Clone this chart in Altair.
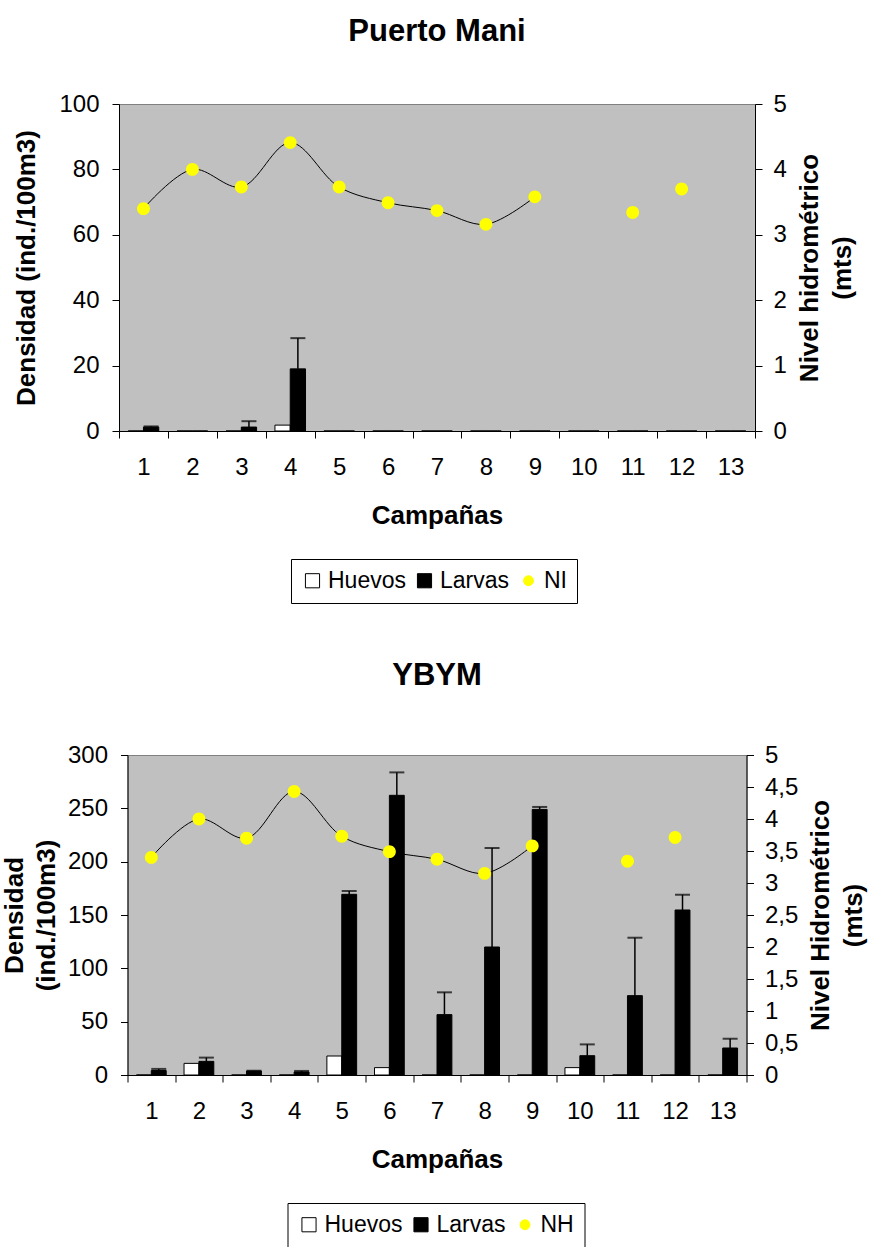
import altair as alt
import pandas as pd

FUENTE = "Liberation Sans"

# Campañas de muestreo
campanas = list(range(1, 14))
series_barras = ["Huevos", "Larvas"]

# Puerto Mani: densidades (ind./100m3), desvío de larvas y nivel hidrométrico (m)
pm_huevos = [0, 0, 0, 1.8, 0, 0, 0, 0, 0, 0, 0, 0, 0]
pm_larvas = [1.2, 0, 1.2, 19.0, 0, 0, 0, 0, 0, 0, 0, 0, 0]
pm_larvas_de = [0.2, 0, 1.8, 9.4, 0, 0, 0, 0, 0, 0, 0, 0, 0]
pm_nivel = [3.40, 4.00, 3.73, 4.41, 3.73, 3.49, 3.37, 3.16, 3.58, None, 3.34, 3.70, None]

# YBYM
yb_huevos = [0, 10.9, 0, 0, 17.8, 6.9, 0, 0, 0, 6.9, 0, 0, 0]
yb_larvas = [4.2, 12.8, 3.7, 2.8, 169.4, 262.2, 56.6, 120.0, 249.0, 18.1, 74.4, 154.7, 25.3]
yb_larvas_de = [1.5, 3.5, 0.3, 1.0, 3.1, 21.5, 20.9, 92.8, 2.3, 10.6, 54.3, 14.3, 8.7]
yb_nivel = [3.40, 4.00, 3.70, 4.43, 3.73, 3.49, 3.37, 3.15, 3.58, None, 3.34, 3.71, None]

# la curva suavizada une las campañas 1 a 9
ULTIMA_CAMPANA_CURVA = 9

# círculo algo menor que el cuadrado en la leyenda
CIRCULO = "M-0.7,0A0.7,0.7,0,1,1,0.7,0A0.7,0.7,0,1,1,-0.7,0Z"


def tabla_barras(huevos, larvas, desvio):
    filas = []
    for c, h, l, d in zip(campanas, huevos, larvas, desvio):
        filas.append({"campana": c, "serie": "Huevos", "valor": h, "sup": h, "desvio": 0})
        filas.append({"campana": c, "serie": "Larvas", "valor": l, "sup": l + d, "desvio": d})
    return pd.DataFrame(filas)


def tabla_nivel(nivel, etiqueta):
    filas = [{"campana": c, "nivel": n, "serie": etiqueta}
             for c, n in zip(campanas, nivel) if n is not None]
    return pd.DataFrame(filas)


def panel(titulo, huevos, larvas, desvio, nivel, etiqueta, y_max, y_paso,
          nivel_paso, titulo_izq, titulo_der, ancho, alto, ley_x, ley_y,
          sep_titulo, sep_titulo_izq):
    barras = tabla_barras(huevos, larvas, desvio)
    niveles = tabla_nivel(nivel, etiqueta)

    dominio = ["Huevos", "Larvas", etiqueta]
    leyenda = alt.Legend(
        title=None, orient="none", legendX=ley_x, legendY=ley_y,
        direction="horizontal", strokeColor="black", padding=10,
        labelFont=FUENTE, labelFontSize=23, labelColor="black",
        symbolSize=200, symbolStrokeWidth=1, labelOffset=4, columnPadding=7,
    )
    relleno = alt.Fill("serie:N", scale=alt.Scale(domain=dominio, range=["white", "black", "#FFFF00"]), legend=leyenda)
    borde = alt.Stroke("serie:N", scale=alt.Scale(domain=dominio, range=["black", "black", "#FFFF00"]), legend=leyenda)
    forma = alt.Shape("serie:N", scale=alt.Scale(domain=dominio, range=["square", "square", CIRCULO]), legend=leyenda)

    eje_x = alt.Axis(title="Campañas", labelAngle=0, tickBand="extent", labelPadding=17,
                     titlePadding=23, tickSize=7)
    x = alt.X("campana:O", scale=alt.Scale(paddingInner=0, paddingOuter=0), axis=eje_x)
    desplaz = alt.XOffset("serie:N", scale=alt.Scale(domain=series_barras, paddingInner=0, paddingOuter=0.6))

    escala_izq = alt.Scale(domain=[0, y_max], nice=False)
    eje_izq = alt.Axis(title=titulo_izq, values=list(range(0, y_max + 1, y_paso)),
                       labelPadding=13, titlePadding=sep_titulo_izq, titleLineHeight=32)

    base = alt.Chart(barras)
    col = base.mark_bar(strokeWidth=1).encode(
        x=x, xOffset=desplaz,
        y=alt.Y("valor:Q", scale=escala_izq, axis=eje_izq),
        fill=relleno, stroke=borde,
    )
    errores = base.transform_filter("datum.desvio > 0")
    barra_error = errores.mark_rule(color="black", strokeWidth=1.5).encode(
        x=x, xOffset=desplaz,
        y=alt.Y("valor:Q", scale=escala_izq, axis=eje_izq), y2="sup:Q",
    )
    tope_error = errores.mark_tick(color="black", size=15, thickness=2).encode(
        x=x, xOffset=desplaz,
        y=alt.Y("sup:Q", scale=escala_izq, axis=eje_izq),
    )
    izquierda = alt.layer(col, barra_error, tope_error)

    valores_der = [i * nivel_paso for i in range(int(round(5 / nivel_paso)) + 1)]
    escala_der = alt.Scale(domain=[0, 5], nice=False)
    eje_der = alt.Axis(title=titulo_der, orient="right", values=valores_der,
                       labelExpr="replace(format(datum.value, '~g'), '.', ',')",
                       labelPadding=11, titleAngle=270, titleBaseline="top",
                       titlePadding=-23, titleLineHeight=33)
    base_n = alt.Chart(niveles)
    curva = base_n.transform_filter(f"datum.campana <= {ULTIMA_CAMPANA_CURVA}").mark_line(
        color="black", strokeWidth=1, interpolate="catmull-rom"
    ).encode(x=x, y=alt.Y("nivel:Q", scale=escala_der, axis=eje_der))
    puntos = base_n.mark_point(filled=True, size=340, opacity=1, strokeWidth=0).encode(
        x=x, y=alt.Y("nivel:Q", scale=escala_der, axis=eje_der),
        fill=relleno, stroke=borde, shape=forma,
    )
    derecha = alt.layer(curva, puntos)

    return alt.layer(izquierda, derecha).resolve_scale(y="independent").properties(
        width=ancho, height=alto,
        title=alt.TitleParams(titulo, offset=sep_titulo),
    )


superior = panel("Puerto Mani", pm_huevos, pm_larvas, pm_larvas_de, pm_nivel, "NI",
                 100, 20, 1, "Densidad (ind./100m3)", ["Nivel hidrométrico", "(mts)"],
                 636, 327, 172, 455, 44, 19)
inferior = panel("YBYM", yb_huevos, yb_larvas, yb_larvas_de, yb_nivel, "NH",
                 300, 50, 0.5, ["Densidad", "(ind./100m3)"], ["Nivel Hidrométrico", "(mts)"],
                 619, 320, 160, 448, 51, 8)

# paneles apilados: la separación se mide entre las áreas de trazado
chart = alt.vconcat(
    superior, inferior, spacing=324, bounds="flush", center=True,
).resolve_scale(
    x="independent", y="independent", xOffset="independent",
    fill="independent", stroke="independent", shape="independent",
).resolve_legend(fill="independent", stroke="independent", shape="independent").properties(
    padding={"left": 0, "top": 15, "right": 0, "bottom": 0},
    background="white",
).configure_view(
    fill="#C0C0C0", stroke="#808080", strokeWidth=1,
).configure_axis(
    labelFont=FUENTE, labelFontSize=24, labelColor="black",
    titleFont=FUENTE, titleFontSize=26, titleFontWeight="bold", titleColor="black",
    domainColor="black", tickColor="black", domainWidth=1, tickWidth=1,
    tickSize=7, grid=False,
).configure_title(
    font=FUENTE, fontSize=31, fontWeight="bold", color="black", anchor="middle",
)

chart.save("out.html", embed_options={"renderer": "svg", "actions": False})
